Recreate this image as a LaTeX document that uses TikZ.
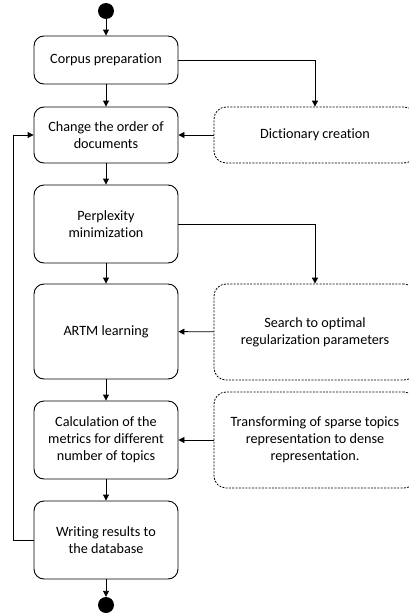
\documentclass[tikz,border=0pt]{standalone}
\usepackage{fontspec}
\setmainfont[Ligatures={NoCommon}]{Carlito}
\usetikzlibrary{arrows.meta}
\begin{document}
\begin{tikzpicture}[x=1pt,y=-1pt,
  every node/.style={font=\fontsize{14.2}{16.8}\selectfont, align=center, inner sep=2pt},
  mainbox/.style={draw, line width=0.9pt, rounded corners=10pt, minimum width=144pt},
  sidebox/.style={draw, line width=0.8pt, dashed, dash pattern=on 2pt off 1.3pt, rounded corners=12pt, minimum width=202pt},
  dot/.style={circle, fill=black, minimum size=16pt, inner sep=0pt},
  conn/.style={line width=0.9pt, -{Triangle[length=6pt,width=6pt]}}]
\useasboundingbox (0,0) rectangle (409,616);
\clip (0,0) rectangle (409,616);
\node[dot] (start) at (106,11) {};
\node[mainbox, minimum height=48pt] (b1) at (106,60) {Corpus preparation};
\node[mainbox, minimum height=56pt] (b2) at (106,135) {Change the order of\\documents};
\node[mainbox, minimum height=78pt] (b3) at (106,224) {Perplexity\\minimization};
\node[mainbox, minimum height=95pt] (b4) at (106,331.5) {ARTM learning};
\node[mainbox, minimum height=78pt] (b5) at (106,440) {Calculation of the\\metrics for different\\number of topics};
\node[mainbox, minimum height=78pt] (b6) at (106,540) {Writing results to\\the database};
\node[dot] (end) at (106,605) {};
\node[sidebox, minimum height=56pt] (d1) at (315,135) {Dictionary creation};
\node[sidebox, minimum height=96pt] (d2) at (315,332) {Search to optimal\\regularization parameters};
\node[sidebox, minimum height=96pt] (d3) at (315,440) {Transforming of sparse topics\\representation to dense\\representation.};
\coordinate (loop) at (13,540);
\draw[conn] (start) -- (b1);
\draw[conn] (b1) -- (b2);
\draw[conn] (b2) -- (b3);
\draw[conn] (b3) -- (b4);
\draw[conn] (b4) -- (b5);
\draw[conn] (b5) -- (b6);
\draw[conn] (b6) -- (end);
\draw[conn] (b1.east) -| (d1.north);
\draw[conn] (b3.east) -| (d2.north);
\draw[conn] (d1) -- (b2);
\draw[conn] (d2) -- (b4);
\draw[conn] (d3) -- (b5);
\draw[conn] (b6.west) -- (loop) |- (b2.west);
\end{tikzpicture}
\end{document}
